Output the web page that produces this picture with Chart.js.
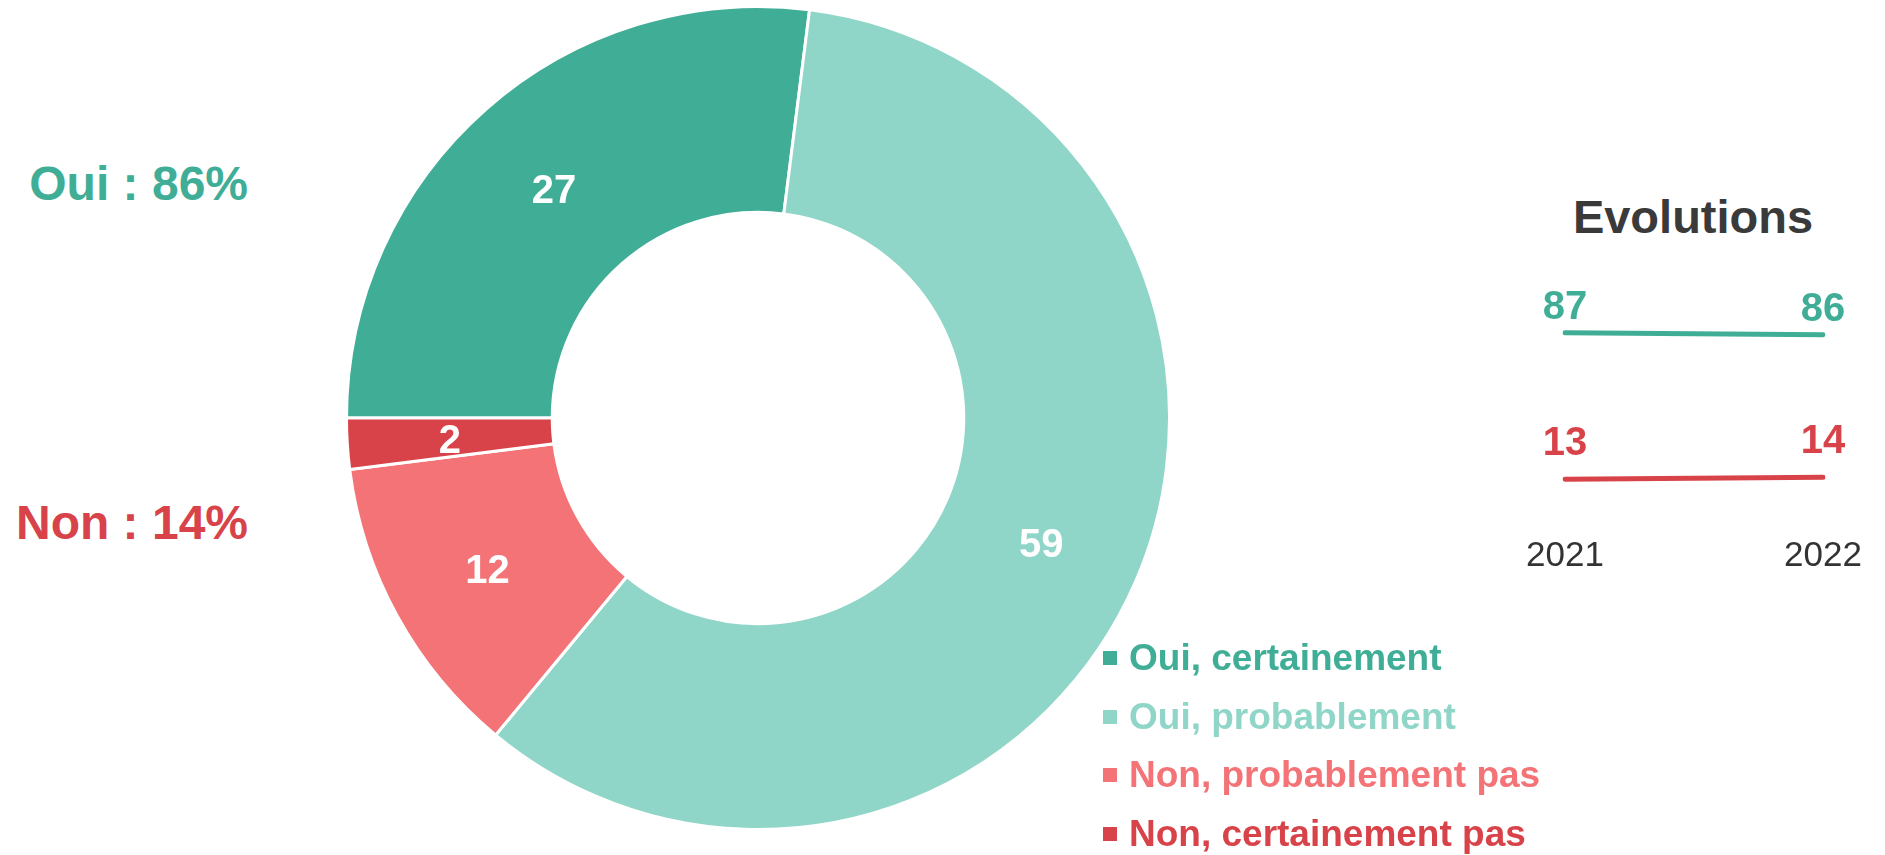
<!DOCTYPE html>
<html lang="fr">
<head>
<meta charset="utf-8">
<title>Intention</title>
<script src="https://cdn.jsdelivr.net/npm/chart.js@4.4.1/dist/chart.umd.min.js"></script>
<style>
  html, body { margin: 0; padding: 0; background: #fff; }
  body { width: 1885px; height: 855px; position: relative; overflow: hidden;
         font-family: "Liberation Sans", Arial, sans-serif; }
  #donutWrap { position: absolute; left: 345px; top: 5px; width: 826px; height: 826px; }
  #evoWrap { position: absolute; left: 1480px; top: 250px; width: 405px; height: 362px; }
  .total { position: absolute; left: 0; width: 248px; text-align: right;
           font-size: 48px; font-weight: bold; line-height: 48px; white-space: nowrap; }
  #evoTitle { position: absolute; left: 1493px; width: 400px; top: 193px; text-align: center;
              font-size: 47px; font-weight: bold; line-height: 47px; color: #3a3a3a; }
  #legend { position: absolute; left: 1103px; top: 640px; }
  #legend .row { position: relative; height: 58.7px; font-size: 37px; font-weight: bold;
                 line-height: 37px; white-space: nowrap; }
  #legend .box { position: absolute; left: 0; top: 11px; width: 14px; height: 14px; }
  #legend .txt { position: absolute; left: 26px; top: -1px; }
</style>
</head>
<body>
<div id="donutWrap"><canvas id="donutChart"></canvas></div>
<div id="evoWrap"><canvas id="evoChart"></canvas></div>
<div class="total" id="ouiTotal" style="top:160px"></div>
<div class="total" id="nonTotal" style="top:499px"></div>
<div id="evoTitle">Evolutions</div>
<div id="legend"></div>
<script>
const categories = ['Oui, certainement', 'Oui, probablement', 'Non, probablement pas', 'Non, certainement pas'];
const shares = [27, 59, 12, 2];
const sliceColors = ['#40ae96', '#90d6c8', '#f37377', '#d8434a'];

const years = ['2021', '2022'];
const ouiTrend = [87, 86];
const nonTrend = [13, 14];

Chart.defaults.font.family = '"Liberation Sans", Arial, sans-serif';

// draws the value of each element on the canvas
const valueLabels = {
    id: 'valueLabels',
    afterDatasetsDraw(chart) {
        const ctx = chart.ctx;
        const opts = chart.options.plugins.valueLabels;
        const dy = 5; // middle baseline sits a bit above the digit centre
        ctx.save();
        ctx.textAlign = 'center';
        ctx.textBaseline = 'middle';
        ctx.font = 'bold ' + opts.size + 'px "Liberation Sans", Arial, sans-serif';
        chart.data.datasets.forEach((ds, i) => {
            const meta = chart.getDatasetMeta(i);
            meta.data.forEach((el, j) => {
                let x, y;
                if (meta.type === 'doughnut') {
                    const p = el.tooltipPosition();
                    x = p.x; y = p.y;
                    ctx.fillStyle = opts.color;
                } else {
                    x = el.x; y = el.y - (ds.labelLift || 30);
                    ctx.fillStyle = ds.borderColor;
                }
                ctx.fillText(String(ds.data[j]), x, y + dy);
            });
        });
        ctx.restore();
    }
};

new Chart(document.getElementById('donutChart'), {
    type: 'doughnut',
    data: {
        labels: categories,
        datasets: [{
            data: shares,
            backgroundColor: sliceColors,
            borderColor: '#ffffff',
            borderWidth: 3
        }]
    },
    options: {
        responsive: true,
        maintainAspectRatio: false,
        animation: false,
        rotation: -90,
        cutout: '50%',
        layout: { padding: 0 },
        plugins: {
            legend: { display: false },
            tooltip: { enabled: false },
            valueLabels: { size: 40, color: '#ffffff' }
        }
    },
    plugins: [valueLabels]
});

new Chart(document.getElementById('evoChart'), {
    type: 'line',
    data: {
        labels: years,
        datasets: [
            { data: ouiTrend, borderColor: sliceColors[0], borderWidth: 5, borderCapStyle: 'round',
              pointRadius: 0, labelLift: 30 },
            { data: nonTrend, borderColor: sliceColors[3], borderWidth: 5, borderCapStyle: 'round',
              pointRadius: 0, labelLift: 40 }
        ]
    },
    options: {
        responsive: true,
        maintainAspectRatio: false,
        animation: false,
        layout: { padding: { left: 85, right: 62, top: 57, bottom: 5 } },
        scales: {
            x: {
                offset: false,
                grid: { display: false, drawTicks: false },
                border: { display: false },
                ticks: { color: '#333333', font: { size: 35 }, padding: 30, maxRotation: 0 },
                // keep the end points where the layout padding puts them
                afterFit(scale) { scale.paddingLeft = 0; scale.paddingRight = 0; }
            },
            y: { display: false, min: 0, max: 100 }
        },
        plugins: {
            legend: { display: false },
            tooltip: { enabled: false },
            valueLabels: { size: 40 }
        }
    },
    plugins: [valueLabels]
});

// totals on the left
const ouiSum = shares[0] + shares[1];
const nonSum = shares[2] + shares[3];
const ouiEl = document.getElementById('ouiTotal');
ouiEl.textContent = 'Oui : ' + ouiSum + '%';
ouiEl.style.color = sliceColors[0];
const nonEl = document.getElementById('nonTotal');
nonEl.textContent = 'Non : ' + nonSum + '%';
nonEl.style.color = sliceColors[3];

// legend
const legend = document.getElementById('legend');
categories.forEach((c, i) => {
    const row = document.createElement('div');
    row.className = 'row';
    row.style.color = sliceColors[i];
    const box = document.createElement('span');
    box.className = 'box';
    box.style.background = sliceColors[i];
    const txt = document.createElement('span');
    txt.className = 'txt';
    txt.textContent = c;
    row.appendChild(box);
    row.appendChild(txt);
    legend.appendChild(row);
});
</script>
</body>
</html>
